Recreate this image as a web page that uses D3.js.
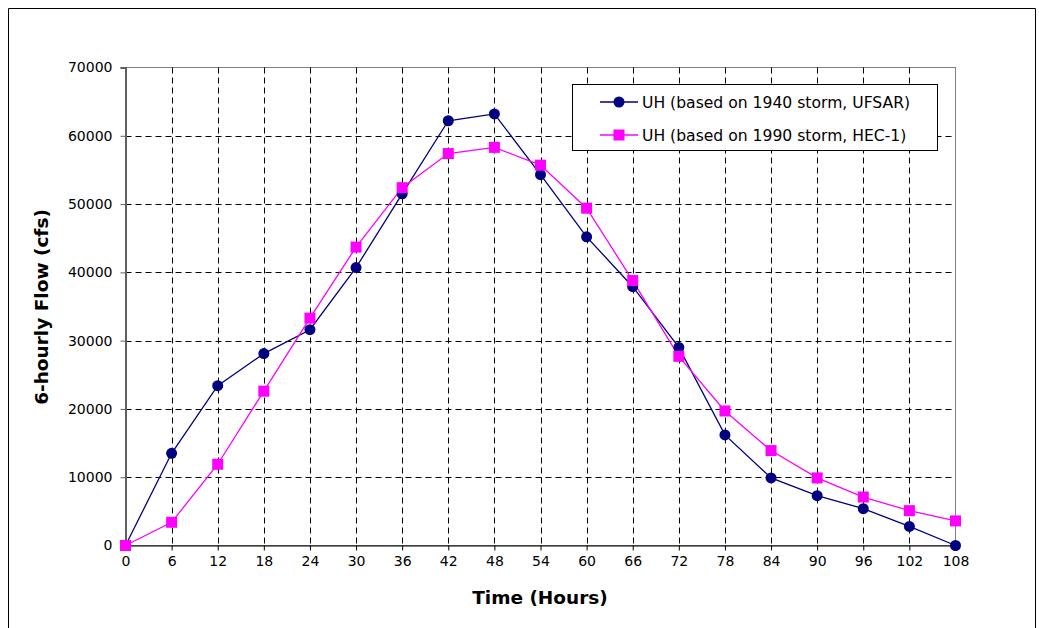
<!DOCTYPE html>
<html><head><meta charset="utf-8">
<script src="https://cdn.jsdelivr.net/npm/d3@7"></script>
<style>body{margin:0;background:#fff}svg{display:block}</style>
</head><body><svg id="c" width="1039" height="628"></svg>
<script>
const hours = [0,6,12,18,24,30,36,42,48,54,60,66,72,78,84,90,96,102,108];
const uh1940 = [0,13500,23400,28100,31600,40700,51500,62200,63200,54300,45200,37900,29000,16200,9900,7300,5400,2800,0];
const uh1990 = [0,3400,11900,22600,33300,43700,52400,57400,58300,55700,49400,38800,27700,19700,13900,9900,7100,5100,3600];
const yTicks = [0,10000,20000,30000,40000,50000,60000,70000];
const seriesNames = ["UH (based on 1940 storm, UFSAR)","UH (based on 1990 storm, HEC-1)"];
const colors = ["#000080","#ff00ff"];

const svg = d3.select("#c");
const font = "DejaVu Sans, Verdana, sans-serif";
// outer frame (open at bottom)
svg.append("path").attr("d","M8.5,628 V8.5 H1035.5 V628").attr("fill","none").attr("stroke","#000").attr("stroke-width",1);

const L=125.5, R=955.5, T=67.5, B=545.5;
const x = d3.scaleLinear().domain([0,108]).range([L,R]);
const y = d3.scaleLinear().domain([0,70000]).range([B,T]);

// plot border
svg.append("rect").attr("x",L).attr("y",T).attr("width",R-L).attr("height",B-T).attr("fill","none").attr("stroke","#808080").attr("stroke-width",1);

// grid
const g = svg.append("g");
g.selectAll("line.h").data(yTicks.filter(d=>d>0&&d<70000)).join("line")
 .attr("x1",L).attr("x2",R).attr("y1",d=>Math.round(y(d))+0.5).attr("y2",d=>Math.round(y(d))+0.5)
 .attr("stroke","#000").attr("stroke-dasharray","6,4").attr("stroke-width",1);
g.selectAll("line.v").data(hours.filter(d=>d>0&&d<108)).join("line")
 .attr("y1",T).attr("y2",B).attr("x1",d=>Math.round(x(d))+0.5).attr("x2",d=>Math.round(x(d))+0.5)
 .attr("stroke","#000").attr("stroke-dasharray","6,4").attr("stroke-width",1);

// axes
const xAxis = d3.axisBottom(x).tickValues(hours).tickSize(5).tickPadding(6).tickFormat(d=>d);
const xa = svg.append("g").attr("transform",`translate(0,${B})`).call(xAxis);
xa.select(".domain").attr("stroke","#000");
xa.selectAll(".tick line").attr("stroke","#000");
xa.selectAll("text").attr("font-family",font).attr("font-size",14).attr("fill","#000");

const yAxis = d3.axisLeft(y).tickValues(yTicks).tickSize(5).tickPadding(8).tickFormat(d=>d);
const ya = svg.append("g").attr("transform",`translate(${L},0)`).call(yAxis);
ya.select(".domain").attr("stroke","#606060").attr("stroke-width",2);
ya.selectAll(".tick line").attr("stroke","#606060");
ya.selectAll("text").attr("font-family",font).attr("font-size",14).attr("fill","#000");

// titles
svg.append("text").attr("x",540).attr("y",604).attr("text-anchor","middle")
 .attr("font-family",font).attr("font-weight","bold").attr("font-size",18.5).text("Time (Hours)");
svg.append("text").attr("transform","translate(48,307) rotate(-90)").attr("text-anchor","middle")
 .attr("font-family",font).attr("font-weight","bold").attr("font-size",18.5).text("6-hourly Flow (cfs)");

// series
const line = d3.line().x((d,i)=>x(hours[i])).y(d=>y(d));
[uh1940, uh1990].forEach((s,k)=>{
  svg.append("path").datum(s).attr("d",line).attr("fill","none").attr("stroke",colors[k]).attr("stroke-width",1.3);
});
svg.append("g").selectAll("circle").data(uh1940).join("circle")
 .attr("cx",(d,i)=>x(hours[i])).attr("cy",d=>y(d)).attr("r",5.5).attr("fill",colors[0]);
svg.append("g").selectAll("rect").data(uh1990).join("rect")
 .attr("x",(d,i)=>x(hours[i])-5.5).attr("y",d=>y(d)-5.5).attr("width",11).attr("height",11).attr("fill",colors[1]);

// legend
const lg = svg.append("g");
lg.append("rect").attr("x",572.5).attr("y",84.5).attr("width",365).attr("height",66).attr("fill","#fff").attr("stroke","#000");
[0,1].forEach(k=>{
  const yy = k===0?102:135;
  lg.append("line").attr("x1",600).attr("x2",638).attr("y1",yy).attr("y2",yy).attr("stroke",colors[k]).attr("stroke-width",1.3);
  if(k===0) lg.append("circle").attr("cx",619).attr("cy",yy).attr("r",5.5).attr("fill",colors[0]);
  else lg.append("rect").attr("x",613.5).attr("y",yy-5.5).attr("width",11).attr("height",11).attr("fill",colors[1]);
  lg.append("text").attr("x",642).attr("y",yy+5.5).attr("font-family",font).attr("font-size",15.6).attr("fill","#000").text(seriesNames[k]);
});
</script></body></html>
